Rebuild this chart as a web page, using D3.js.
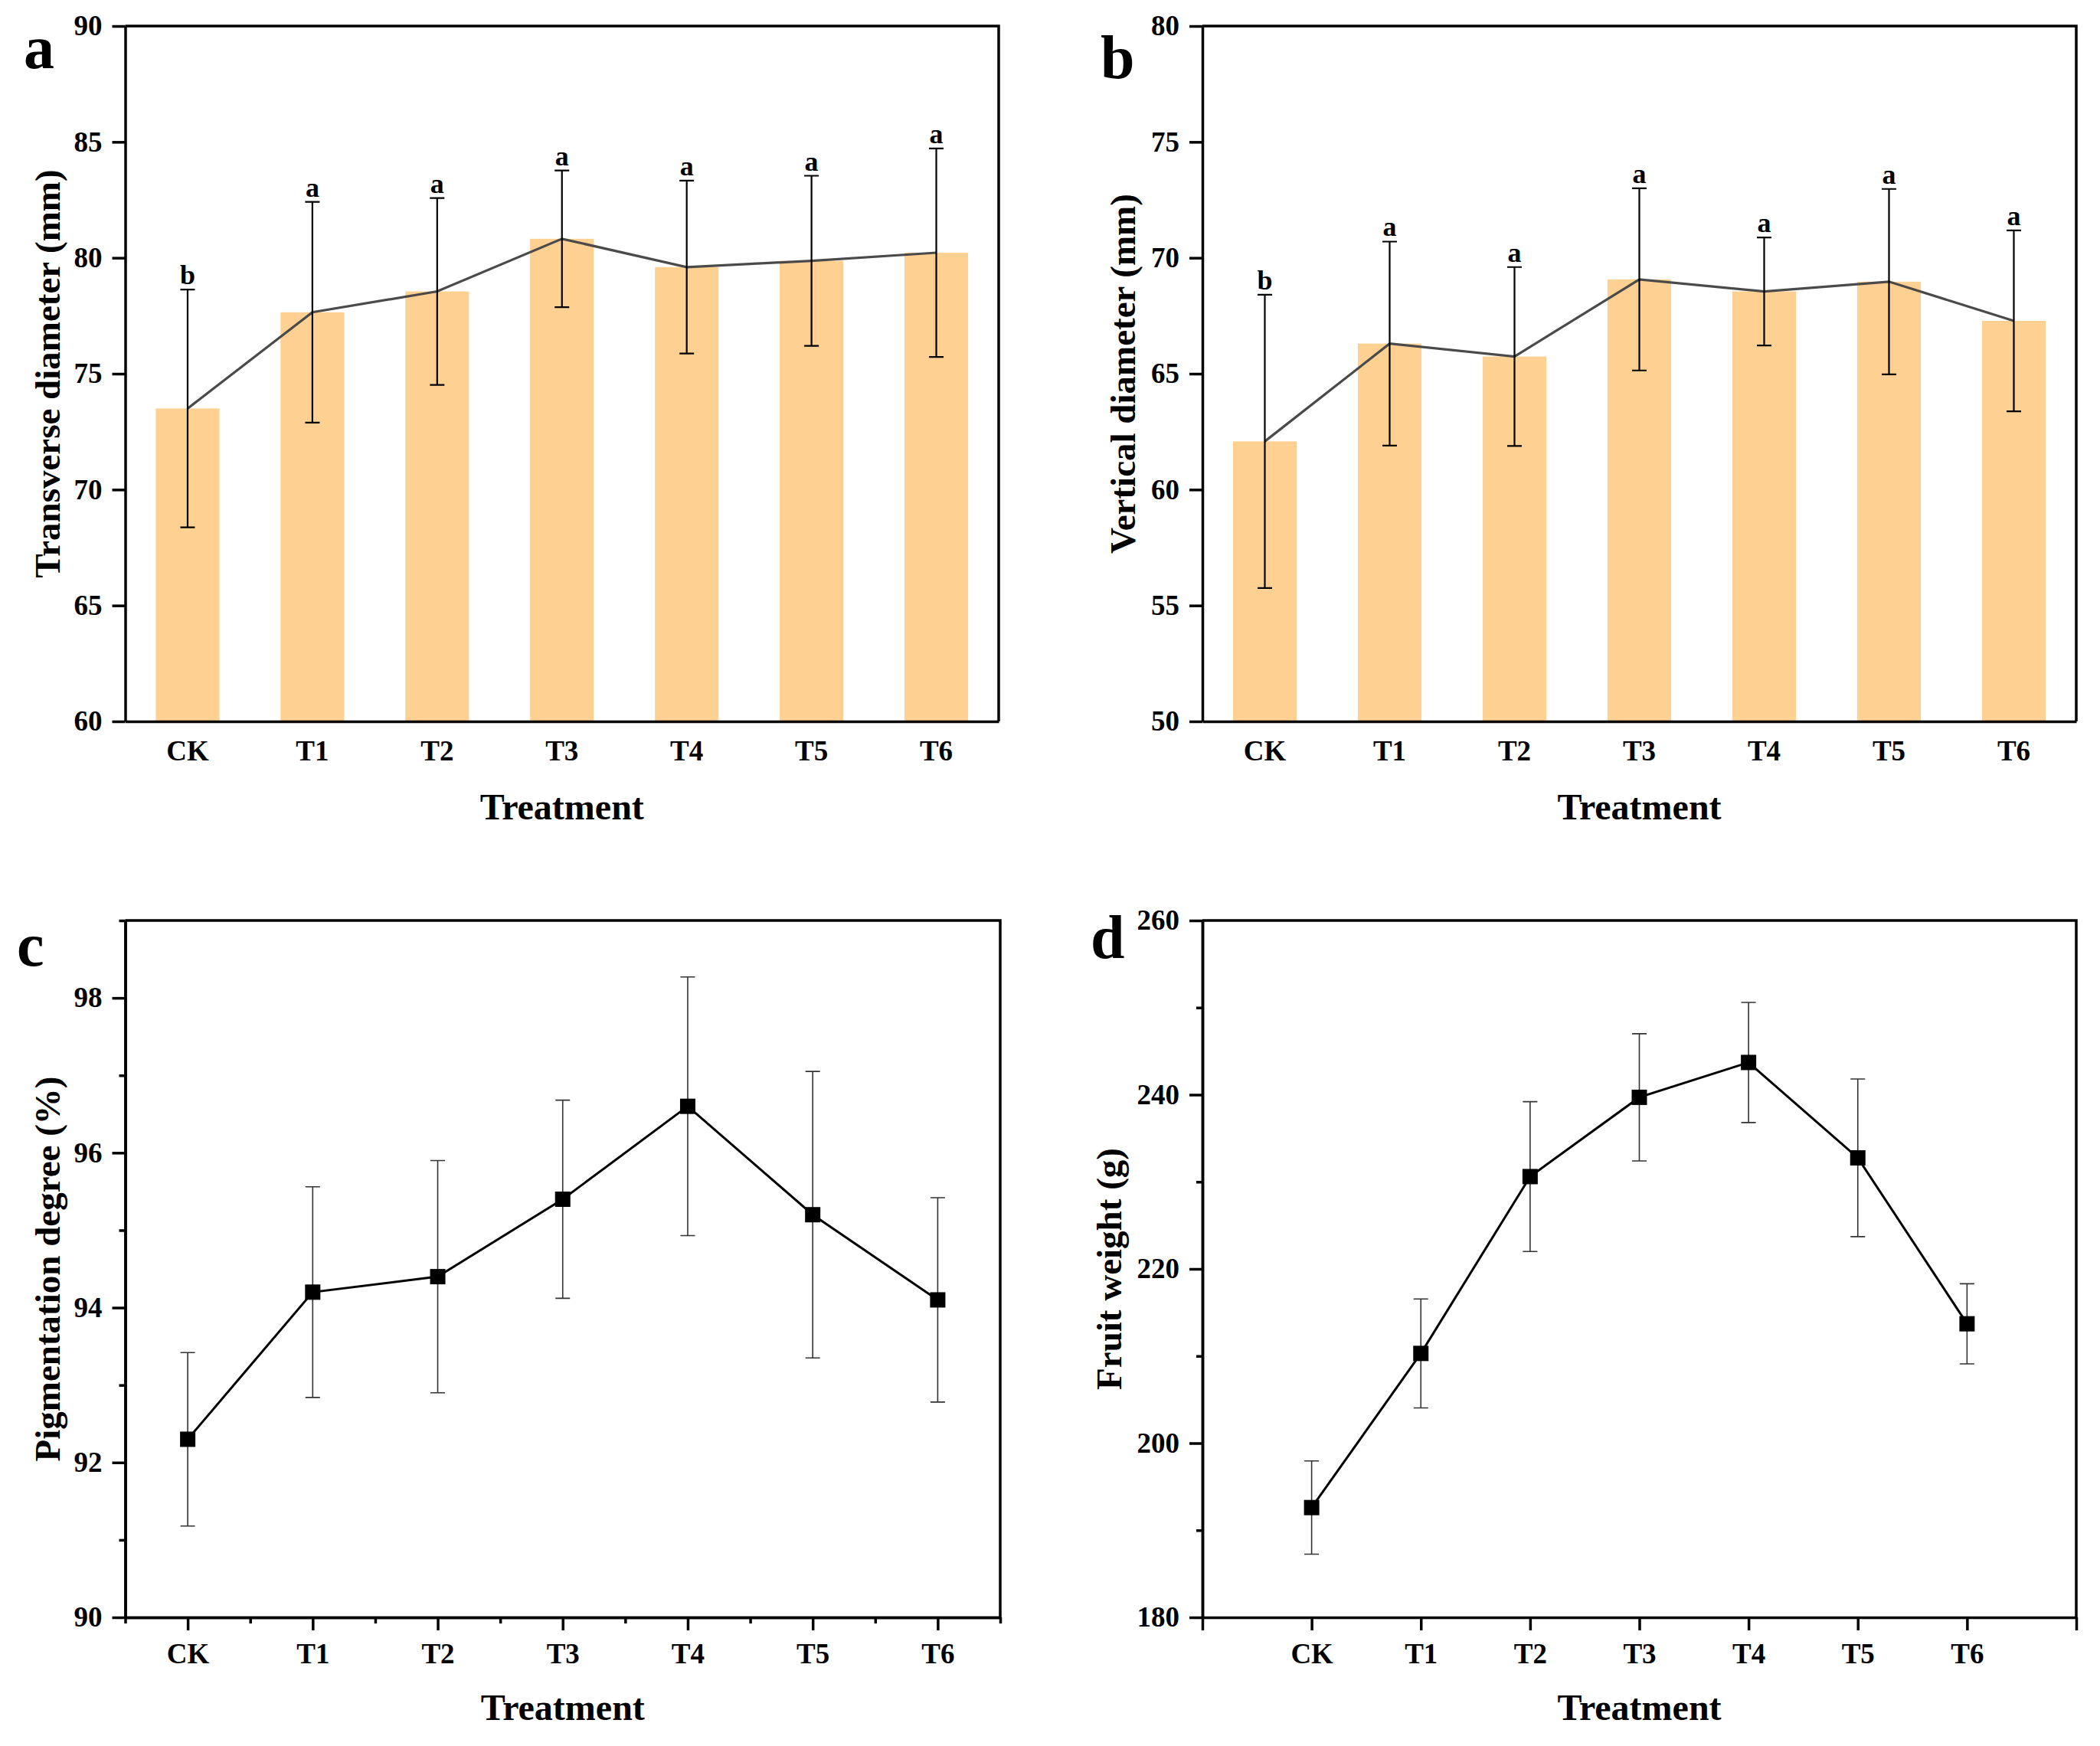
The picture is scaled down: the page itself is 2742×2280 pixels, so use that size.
<!DOCTYPE html>
<html lang="en">
<head>
<meta charset="UTF-8">
<title>Fruit traits by treatment</title>
<script src="https://d3js.org/d3.v7.min.js"></script>
<style>
  body { margin: 0; background: #fff; }
  svg text { font-family: "Liberation Serif", "Times New Roman", serif; font-weight: bold; fill: #000; }
</style>
</head>
<body>
<svg id="fig" width="2742" height="2280"></svg>
<script>
// data
const treatments = ["CK", "T1", "T2", "T3", "T4", "T5", "T6"];

const transMean = [73.5, 77.65, 78.55, 80.82, 79.6, 79.87, 80.22];
const transErr  = [5.13, 4.76, 4.03, 2.95, 3.73, 3.67, 4.5];
const transSig  = ["b", "a", "a", "a", "a", "a", "a"];

const vertMean = [62.08, 66.3, 65.74, 69.07, 68.55, 68.97, 67.28];
const vertErr  = [6.33, 4.4, 3.86, 3.93, 2.33, 4.0, 3.9];
const vertSig  = ["b", "a", "a", "a", "a", "a", "a"];

const pigMean = [92.3, 94.2, 94.4, 95.4, 96.6, 95.2, 94.1];
const pigErr  = [1.12, 1.36, 1.5, 1.28, 1.67, 1.85, 1.32];

const weightMean = [192.6, 210.3, 230.6, 239.7, 243.7, 232.75, 213.7];
const weightErr  = [5.35, 6.25, 8.6, 7.3, 6.9, 9.05, 4.6];

const svg = d3.select("#fig");
const AX = 3.5; // axis stroke width

function styleAxis(g) {
  g.selectAll("path, line").attr("stroke", "#000").attr("stroke-width", AX);
  g.selectAll("text").attr("font-size", 37).attr("fill", "#000");
}

function frame(p) {
  // top and right sides of the box
  svg.append("path")
    .attr("d", `M${p.left},${p.top}H${p.right}V${p.bottom}`)
    .attr("fill", "none").attr("stroke", "#000").attr("stroke-width", AX);
}

function labels(p, ylabel, letter, lx, ly, ylx, xlabelY) {
  svg.append("text").attr("x", lx).attr("y", ly).attr("font-size", 80).text(letter);
  svg.append("text")
    .attr("transform", `translate(${ylx},${(p.top + p.bottom) / 2}) rotate(-90)`)
    .attr("text-anchor", "middle").attr("dy", "0.35em")
    .attr("font-size", 47).text(ylabel);
  svg.append("text")
    .attr("x", (p.left + p.right) / 2).attr("y", xlabelY)
    .attr("text-anchor", "middle").attr("font-size", 48).text("Treatment");
}

function errBars(g, xs, y, mean, err, cap, color, width) {
  g.selectAll(".err").data(mean).join("path")
    .attr("class", "err")
    .attr("d", (d, i) => {
      const cx = xs(i), t = y(d + err[i]), b = y(d - err[i]);
      return `M${cx},${t}V${b}M${cx - cap / 2},${t}H${cx + cap / 2}M${cx - cap / 2},${b}H${cx + cap / 2}`;
    })
    .attr("fill", "none").attr("stroke", color).attr("stroke-width", width);
}

// panels a and b: bars + line + error bars + letters
function barPanel(p, domain, mean, err, sig, ylabel, letter, lx, ly, ylx) {
  const x = d3.scaleBand().domain(treatments).range([p.left, p.right])
    .paddingInner(0.49).paddingOuter(0.245);
  const y = d3.scaleLinear().domain(domain).range([p.bottom, p.top]);
  const cx = i => x(treatments[i]) + x.bandwidth() / 2;

  svg.append("g").selectAll("rect").data(mean).join("rect")
    .attr("x", (d, i) => x(treatments[i]))
    .attr("y", d => y(d))
    .attr("width", x.bandwidth())
    .attr("height", d => p.bottom - y(d))
    .attr("fill", "#FED092");

  svg.append("path").datum(mean)
    .attr("d", d3.line().x((d, i) => cx(i)).y(d => y(d)))
    .attr("fill", "none").attr("stroke", "#4a4a4a").attr("stroke-width", 3.2);

  const g = svg.append("g");
  errBars(g, cx, y, mean, err, 19, "#000", 2.2);

  svg.append("g").selectAll("text").data(sig).join("text")
    .attr("x", (d, i) => cx(i))
    .attr("y", (d, i) => y(mean[i] + err[i]) - 7)
    .attr("text-anchor", "middle").attr("font-size", 36).text(d => d);

  frame(p);
  svg.append("g").attr("transform", `translate(${p.left},0)`)
    .call(d3.axisLeft(y).tickValues(d3.range(domain[0], domain[1] + 0.1, 5))
      .tickSize(17).tickSizeOuter(0).tickPadding(13))
    .call(styleAxis);
  svg.append("g").attr("transform", `translate(0,${p.bottom})`)
    .call(d3.axisBottom(x).tickSize(0).tickPadding(25))
    .call(styleAxis);

  labels(p, ylabel, letter, lx, ly, ylx, 1070);
}

// panels c and d: line with square markers + error bars
function linePanel(p, xdom, domain, major, minor, mean, err, ylabel, letter, lx, ly, ylx) {
  const x = d3.scaleLinear().domain(xdom).range([p.left, p.right]);
  const y = d3.scaleLinear().domain(domain).range([p.bottom, p.top]);
  const cx = i => x(i);

  const g = svg.append("g");
  errBars(g, cx, y, mean, err, 19, "#333", 1.6);

  svg.append("path").datum(mean)
    .attr("d", d3.line().x((d, i) => cx(i)).y(d => y(d)))
    .attr("fill", "none").attr("stroke", "#000").attr("stroke-width", 3);

  svg.append("g").selectAll("rect").data(mean).join("rect")
    .attr("x", (d, i) => cx(i) - 10).attr("y", d => y(d) - 10)
    .attr("width", 20).attr("height", 20).attr("fill", "#000");

  frame(p);
  // y axis: minor then major
  svg.append("g").attr("transform", `translate(${p.left},0)`)
    .call(d3.axisLeft(y).tickValues(minor).tickSize(8).tickSizeOuter(0).tickFormat(""))
    .call(styleAxis);
  svg.append("g").attr("transform", `translate(${p.left},0)`)
    .call(d3.axisLeft(y).tickValues(major).tickSize(17).tickSizeOuter(0).tickPadding(13))
    .call(styleAxis);

  // x axis
  if (p.xMinor.length) {
    svg.append("g").attr("transform", `translate(0,${p.bottom})`)
      .call(d3.axisBottom(x).tickValues(p.xMinor).tickSize(8).tickSizeOuter(0).tickFormat(""))
      .call(styleAxis);
  }
  svg.append("g").attr("transform", `translate(0,${p.bottom})`)
    .call(d3.axisBottom(x).tickValues(p.xMajor).tickSize(17).tickSizeOuter(0).tickPadding(17)
      .tickFormat(i => treatments[i] || ""))
    .call(styleAxis);

  labels(p, ylabel, letter, lx, ly, ylx, 2246);
}

barPanel({ left: 163.5, right: 1304, top: 34, bottom: 942 }, [60, 90],
  transMean, transErr, transSig, "Transverse diameter (mm)", "a", 31, 89, 62);

barPanel({ left: 1570, right: 2711, top: 34, bottom: 942 }, [50, 80],
  vertMean, vertErr, vertSig, "Vertical diameter (mm)", "b", 1437, 102, 1466);

linePanel({ left: 163.5, right: 1306, top: 1202, bottom: 2112,
    xMajor: d3.range(0, 7), xMinor: d3.range(-0.5, 7, 1) },
  [-0.5, 6.5], [90, 99], [90, 92, 94, 96, 98], [91, 93, 95, 97, 99],
  pigMean, pigErr, "Pigmentation degree (%)", "c", 22, 1261, 62);

linePanel({ left: 1570, right: 2711, top: 1202, bottom: 2112,
    xMajor: d3.range(-1, 8), xMinor: [] },
  [-1, 7], [180, 260], [180, 200, 220, 240, 260], [190, 210, 230, 250],
  weightMean, weightErr, "Fruit weight (g)", "d", 1424, 1251, 1448);
</script>
</body>
</html>
